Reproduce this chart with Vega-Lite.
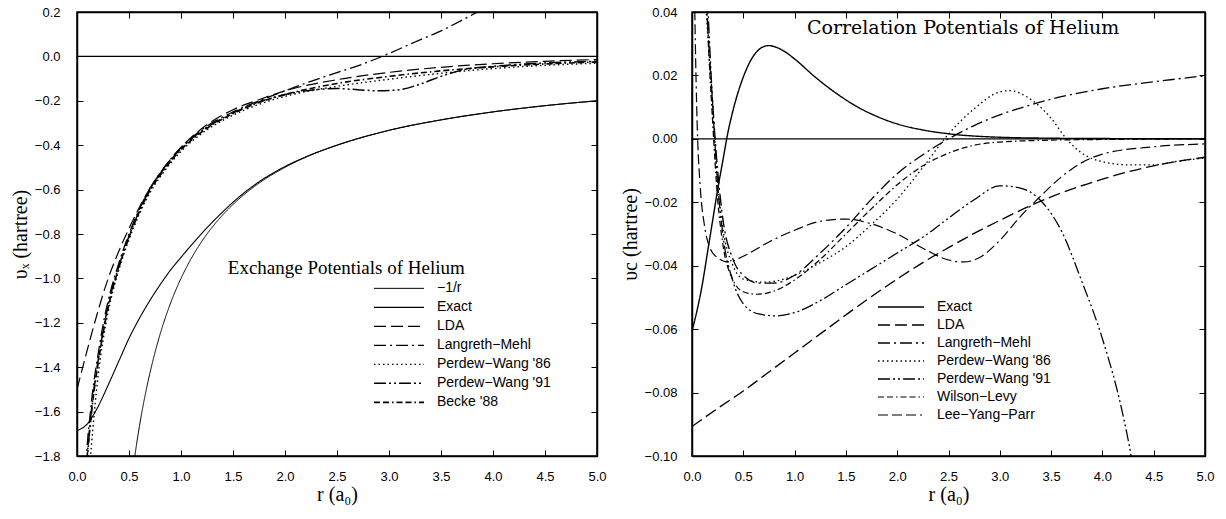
{
"$schema":"https://vega.github.io/schema/vega-lite/v6.json",
"background":"white",
"padding":{"left":9,"top":5,"right":5,"bottom":5},
"spacing":95,
"bounds":"flush",
"config":{
 "view":{"stroke":"black","strokeWidth":1.5},
 "font":"Liberation Sans",
 "axis":{"grid":false,"domainColor":"black","domainWidth":1.5,"tickColor":"black","tickWidth":1,"tickSize":-6,
  "labelFlush":false,"labelOverlap":false,
  "labelFont":"Liberation Sans","labelFontSize":13,"labelColor":"black","labelPadding":20,
  "titleFont":"Liberation Serif","titleFontSize":20,"titleFontWeight":"normal","titleColor":"black"}
},
"datasets":{
"ex":[
{"m":"−1/r","r":0.5,"v":-2.0},{"m":"−1/r","r":0.556,"v":-1.8},{"m":"−1/r","r":0.6,"v":-1.667},{"m":"−1/r","r":0.65,"v":-1.538},{"m":"−1/r","r":0.7,"v":-1.429},{"m":"−1/r","r":0.8,"v":-1.25},{"m":"−1/r","r":0.9,"v":-1.111},{"m":"−1/r","r":1.0,"v":-1.0},{"m":"−1/r","r":1.1,"v":-0.909},{"m":"−1/r","r":1.2,"v":-0.833},{"m":"−1/r","r":1.35,"v":-0.741},{"m":"−1/r","r":1.5,"v":-0.667},{"m":"−1/r","r":1.75,"v":-0.571},{"m":"−1/r","r":2.0,"v":-0.5},{"m":"−1/r","r":2.25,"v":-0.444},{"m":"−1/r","r":2.5,"v":-0.4},{"m":"−1/r","r":3.0,"v":-0.333},{"m":"−1/r","r":3.5,"v":-0.286},{"m":"−1/r","r":4.0,"v":-0.25},{"m":"−1/r","r":4.5,"v":-0.222},{"m":"−1/r","r":5.0,"v":-0.2},
{"m":"Exact","r":0,"v":-1.686},{"m":"Exact","r":0.1,"v":-1.655},{"m":"Exact","r":0.2,"v":-1.58},{"m":"Exact","r":0.3,"v":-1.48},{"m":"Exact","r":0.4,"v":-1.375},{"m":"Exact","r":0.5,"v":-1.27},{"m":"Exact","r":0.6,"v":-1.18},{"m":"Exact","r":0.7,"v":-1.1},{"m":"Exact","r":0.8,"v":-1.028},{"m":"Exact","r":0.9,"v":-0.962},{"m":"Exact","r":1.0,"v":-0.905},{"m":"Exact","r":1.1,"v":-0.85},{"m":"Exact","r":1.2,"v":-0.797},{"m":"Exact","r":1.35,"v":-0.724},{"m":"Exact","r":1.5,"v":-0.657},{"m":"Exact","r":1.75,"v":-0.565},{"m":"Exact","r":2.0,"v":-0.496},{"m":"Exact","r":2.25,"v":-0.443},{"m":"Exact","r":2.5,"v":-0.4},{"m":"Exact","r":3.0,"v":-0.333},{"m":"Exact","r":3.5,"v":-0.286},{"m":"Exact","r":4.0,"v":-0.25},{"m":"Exact","r":4.5,"v":-0.222},{"m":"Exact","r":5.0,"v":-0.2},
{"m":"LDA","r":0,"v":-1.5},{"m":"LDA","r":0.1,"v":-1.32},{"m":"LDA","r":0.2,"v":-1.15},{"m":"LDA","r":0.3,"v":-1.0},{"m":"LDA","r":0.4,"v":-0.88},{"m":"LDA","r":0.5,"v":-0.775},{"m":"LDA","r":0.6,"v":-0.68},{"m":"LDA","r":0.7,"v":-0.595},{"m":"LDA","r":0.8,"v":-0.525},{"m":"LDA","r":1.0,"v":-0.41},{"m":"LDA","r":1.2,"v":-0.325},{"m":"LDA","r":1.5,"v":-0.24},{"m":"LDA","r":1.75,"v":-0.195},{"m":"LDA","r":2.0,"v":-0.155},{"m":"LDA","r":2.5,"v":-0.105},{"m":"LDA","r":3.0,"v":-0.072},{"m":"LDA","r":3.5,"v":-0.049},{"m":"LDA","r":4.0,"v":-0.033},{"m":"LDA","r":4.5,"v":-0.022},{"m":"LDA","r":5.0,"v":-0.014},
{"m":"Langreth−Mehl","r":0.085,"v":-1.85},{"m":"Langreth−Mehl","r":0.1,"v":-1.74},{"m":"Langreth−Mehl","r":0.125,"v":-1.62},{"m":"Langreth−Mehl","r":0.15,"v":-1.51},{"m":"Langreth−Mehl","r":0.2,"v":-1.35},{"m":"Langreth−Mehl","r":0.25,"v":-1.21},{"m":"Langreth−Mehl","r":0.3,"v":-1.1},{"m":"Langreth−Mehl","r":0.4,"v":-0.935},{"m":"Langreth−Mehl","r":0.5,"v":-0.8},{"m":"Langreth−Mehl","r":0.6,"v":-0.688},{"m":"Langreth−Mehl","r":0.7,"v":-0.595},{"m":"Langreth−Mehl","r":0.8,"v":-0.525},{"m":"Langreth−Mehl","r":1.0,"v":-0.41},{"m":"Langreth−Mehl","r":1.2,"v":-0.33},{"m":"Langreth−Mehl","r":1.5,"v":-0.25},{"m":"Langreth−Mehl","r":1.75,"v":-0.2},{"m":"Langreth−Mehl","r":2.0,"v":-0.155},{"m":"Langreth−Mehl","r":2.25,"v":-0.112},{"m":"Langreth−Mehl","r":2.5,"v":-0.073},{"m":"Langreth−Mehl","r":2.75,"v":-0.034},{"m":"Langreth−Mehl","r":3.0,"v":0.013},{"m":"Langreth−Mehl","r":3.25,"v":0.065},{"m":"Langreth−Mehl","r":3.5,"v":0.115},{"m":"Langreth−Mehl","r":3.75,"v":0.175},{"m":"Langreth−Mehl","r":3.95,"v":0.225},
{"m":"Perdew−Wang '86","r":0.12,"v":-1.85},{"m":"Perdew−Wang '86","r":0.13,"v":-1.8},{"m":"Perdew−Wang '86","r":0.15,"v":-1.69},{"m":"Perdew−Wang '86","r":0.2,"v":-1.45},{"m":"Perdew−Wang '86","r":0.25,"v":-1.28},{"m":"Perdew−Wang '86","r":0.3,"v":-1.15},{"m":"Perdew−Wang '86","r":0.4,"v":-0.965},{"m":"Perdew−Wang '86","r":0.5,"v":-0.825},{"m":"Perdew−Wang '86","r":0.6,"v":-0.71},{"m":"Perdew−Wang '86","r":0.7,"v":-0.615},{"m":"Perdew−Wang '86","r":0.8,"v":-0.543},{"m":"Perdew−Wang '86","r":1.0,"v":-0.428},{"m":"Perdew−Wang '86","r":1.2,"v":-0.347},{"m":"Perdew−Wang '86","r":1.5,"v":-0.265},{"m":"Perdew−Wang '86","r":1.75,"v":-0.216},{"m":"Perdew−Wang '86","r":2.0,"v":-0.18},{"m":"Perdew−Wang '86","r":2.5,"v":-0.135},{"m":"Perdew−Wang '86","r":3.0,"v":-0.103},{"m":"Perdew−Wang '86","r":3.5,"v":-0.076},{"m":"Perdew−Wang '86","r":4.0,"v":-0.055},{"m":"Perdew−Wang '86","r":4.5,"v":-0.04},{"m":"Perdew−Wang '86","r":5.0,"v":-0.031},
{"m":"Perdew−Wang '91","r":0.095,"v":-1.85},{"m":"Perdew−Wang '91","r":0.11,"v":-1.75},{"m":"Perdew−Wang '91","r":0.125,"v":-1.66},{"m":"Perdew−Wang '91","r":0.15,"v":-1.55},{"m":"Perdew−Wang '91","r":0.2,"v":-1.38},{"m":"Perdew−Wang '91","r":0.25,"v":-1.24},{"m":"Perdew−Wang '91","r":0.3,"v":-1.12},{"m":"Perdew−Wang '91","r":0.4,"v":-0.95},{"m":"Perdew−Wang '91","r":0.5,"v":-0.81},{"m":"Perdew−Wang '91","r":0.6,"v":-0.695},{"m":"Perdew−Wang '91","r":0.7,"v":-0.6},{"m":"Perdew−Wang '91","r":0.8,"v":-0.53},{"m":"Perdew−Wang '91","r":1.0,"v":-0.415},{"m":"Perdew−Wang '91","r":1.2,"v":-0.335},{"m":"Perdew−Wang '91","r":1.5,"v":-0.255},{"m":"Perdew−Wang '91","r":1.75,"v":-0.205},{"m":"Perdew−Wang '91","r":2.0,"v":-0.172},{"m":"Perdew−Wang '91","r":2.25,"v":-0.152},{"m":"Perdew−Wang '91","r":2.5,"v":-0.145},{"m":"Perdew−Wang '91","r":2.7,"v":-0.15},{"m":"Perdew−Wang '91","r":2.9,"v":-0.155},{"m":"Perdew−Wang '91","r":3.1,"v":-0.15},{"m":"Perdew−Wang '91","r":3.3,"v":-0.125},{"m":"Perdew−Wang '91","r":3.5,"v":-0.09},{"m":"Perdew−Wang '91","r":3.7,"v":-0.062},{"m":"Perdew−Wang '91","r":4.0,"v":-0.045},{"m":"Perdew−Wang '91","r":4.5,"v":-0.03},{"m":"Perdew−Wang '91","r":5.0,"v":-0.022},
{"m":"Becke '88","r":0.09,"v":-1.85},{"m":"Becke '88","r":0.1,"v":-1.79},{"m":"Becke '88","r":0.125,"v":-1.67},{"m":"Becke '88","r":0.15,"v":-1.56},{"m":"Becke '88","r":0.2,"v":-1.39},{"m":"Becke '88","r":0.25,"v":-1.25},{"m":"Becke '88","r":0.3,"v":-1.13},{"m":"Becke '88","r":0.4,"v":-0.955},{"m":"Becke '88","r":0.5,"v":-0.815},{"m":"Becke '88","r":0.6,"v":-0.7},{"m":"Becke '88","r":0.7,"v":-0.605},{"m":"Becke '88","r":0.8,"v":-0.535},{"m":"Becke '88","r":1.0,"v":-0.42},{"m":"Becke '88","r":1.2,"v":-0.34},{"m":"Becke '88","r":1.5,"v":-0.258},{"m":"Becke '88","r":1.75,"v":-0.208},{"m":"Becke '88","r":2.0,"v":-0.172},{"m":"Becke '88","r":2.5,"v":-0.122},{"m":"Becke '88","r":3.0,"v":-0.09},{"m":"Becke '88","r":3.5,"v":-0.065},{"m":"Becke '88","r":4.0,"v":-0.047},{"m":"Becke '88","r":4.5,"v":-0.034},{"m":"Becke '88","r":5.0,"v":-0.025}
],
"co":[
{"m":"Exact","r":0,"v":-0.0605},{"m":"Exact","r":0.05,"v":-0.054},{"m":"Exact","r":0.1,"v":-0.046},{"m":"Exact","r":0.15,"v":-0.036},{"m":"Exact","r":0.2,"v":-0.026},{"m":"Exact","r":0.25,"v":-0.016},{"m":"Exact","r":0.3,"v":-0.007},{"m":"Exact","r":0.35,"v":0.002},{"m":"Exact","r":0.4,"v":0.009},{"m":"Exact","r":0.5,"v":0.0195},{"m":"Exact","r":0.6,"v":0.0262},{"m":"Exact","r":0.7,"v":0.0291},{"m":"Exact","r":0.75,"v":0.0294},{"m":"Exact","r":0.8,"v":0.0291},{"m":"Exact","r":0.9,"v":0.0276},{"m":"Exact","r":1.0,"v":0.0252},{"m":"Exact","r":1.2,"v":0.0195},{"m":"Exact","r":1.4,"v":0.0145},{"m":"Exact","r":1.6,"v":0.0103},{"m":"Exact","r":1.8,"v":0.0071},{"m":"Exact","r":2.0,"v":0.0047},{"m":"Exact","r":2.25,"v":0.0028},{"m":"Exact","r":2.5,"v":0.0016},{"m":"Exact","r":3.0,"v":0.0005},{"m":"Exact","r":3.5,"v":0.0002},{"m":"Exact","r":4.0,"v":0.0001},{"m":"Exact","r":5.0,"v":0},
{"m":"LDA","r":0,"v":-0.0907},{"m":"LDA","r":0.25,"v":-0.085},{"m":"LDA","r":0.5,"v":-0.0795},{"m":"LDA","r":0.75,"v":-0.0735},{"m":"LDA","r":1.0,"v":-0.0675},{"m":"LDA","r":1.25,"v":-0.0615},{"m":"LDA","r":1.5,"v":-0.0555},{"m":"LDA","r":1.75,"v":-0.0497},{"m":"LDA","r":2.0,"v":-0.0442},{"m":"LDA","r":2.25,"v":-0.039},{"m":"LDA","r":2.5,"v":-0.0343},{"m":"LDA","r":2.75,"v":-0.0298},{"m":"LDA","r":3.0,"v":-0.0257},{"m":"LDA","r":3.25,"v":-0.0218},{"m":"LDA","r":3.5,"v":-0.0183},{"m":"LDA","r":3.75,"v":-0.0153},{"m":"LDA","r":4.0,"v":-0.0127},{"m":"LDA","r":4.25,"v":-0.0104},{"m":"LDA","r":4.5,"v":-0.0085},{"m":"LDA","r":4.75,"v":-0.007},{"m":"LDA","r":5.0,"v":-0.0058},
{"m":"Langreth−Mehl","r":0.14,"v":0.045},{"m":"Langreth−Mehl","r":0.15,"v":0.038},{"m":"Langreth−Mehl","r":0.2,"v":0.012},{"m":"Langreth−Mehl","r":0.25,"v":-0.01},{"m":"Langreth−Mehl","r":0.3,"v":-0.025},{"m":"Langreth−Mehl","r":0.4,"v":-0.038},{"m":"Langreth−Mehl","r":0.5,"v":-0.043},{"m":"Langreth−Mehl","r":0.65,"v":-0.0455},{"m":"Langreth−Mehl","r":0.8,"v":-0.0455},{"m":"Langreth−Mehl","r":1.0,"v":-0.043},{"m":"Langreth−Mehl","r":1.25,"v":-0.036},{"m":"Langreth−Mehl","r":1.5,"v":-0.028},{"m":"Langreth−Mehl","r":1.75,"v":-0.019},{"m":"Langreth−Mehl","r":2.0,"v":-0.011},{"m":"Langreth−Mehl","r":2.25,"v":-0.005},{"m":"Langreth−Mehl","r":2.5,"v":0.0},{"m":"Langreth−Mehl","r":2.75,"v":0.0042},{"m":"Langreth−Mehl","r":3.0,"v":0.0076},{"m":"Langreth−Mehl","r":3.25,"v":0.0102},{"m":"Langreth−Mehl","r":3.5,"v":0.0125},{"m":"Langreth−Mehl","r":4.0,"v":0.0158},{"m":"Langreth−Mehl","r":4.5,"v":0.018},{"m":"Langreth−Mehl","r":5.0,"v":0.0199},
{"m":"Perdew−Wang '86","r":0.13,"v":0.045},{"m":"Perdew−Wang '86","r":0.15,"v":0.035},{"m":"Perdew−Wang '86","r":0.2,"v":0.008},{"m":"Perdew−Wang '86","r":0.25,"v":-0.014},{"m":"Perdew−Wang '86","r":0.3,"v":-0.028},{"m":"Perdew−Wang '86","r":0.4,"v":-0.04},{"m":"Perdew−Wang '86","r":0.5,"v":-0.0442},{"m":"Perdew−Wang '86","r":0.7,"v":-0.0452},{"m":"Perdew−Wang '86","r":0.9,"v":-0.0442},{"m":"Perdew−Wang '86","r":1.0,"v":-0.043},{"m":"Perdew−Wang '86","r":1.25,"v":-0.039},{"m":"Perdew−Wang '86","r":1.5,"v":-0.034},{"m":"Perdew−Wang '86","r":1.75,"v":-0.027},{"m":"Perdew−Wang '86","r":2.0,"v":-0.019},{"m":"Perdew−Wang '86","r":2.25,"v":-0.009},{"m":"Perdew−Wang '86","r":2.5,"v":0.0015},{"m":"Perdew−Wang '86","r":2.75,"v":0.0095},{"m":"Perdew−Wang '86","r":3.0,"v":0.0148},{"m":"Perdew−Wang '86","r":3.1,"v":0.0152},{"m":"Perdew−Wang '86","r":3.25,"v":0.0135},{"m":"Perdew−Wang '86","r":3.5,"v":0.0065},{"m":"Perdew−Wang '86","r":3.65,"v":0.0},{"m":"Perdew−Wang '86","r":3.8,"v":-0.0045},{"m":"Perdew−Wang '86","r":4.0,"v":-0.0072},{"m":"Perdew−Wang '86","r":4.25,"v":-0.0082},{"m":"Perdew−Wang '86","r":4.5,"v":-0.0082},{"m":"Perdew−Wang '86","r":4.75,"v":-0.007},{"m":"Perdew−Wang '86","r":5.0,"v":-0.006},
{"m":"Perdew−Wang '91","r":0.15,"v":0.045},{"m":"Perdew−Wang '91","r":0.2,"v":0.012},{"m":"Perdew−Wang '91","r":0.25,"v":-0.014},{"m":"Perdew−Wang '91","r":0.3,"v":-0.03},{"m":"Perdew−Wang '91","r":0.4,"v":-0.045},{"m":"Perdew−Wang '91","r":0.5,"v":-0.052},{"m":"Perdew−Wang '91","r":0.65,"v":-0.0552},{"m":"Perdew−Wang '91","r":0.82,"v":-0.0558},{"m":"Perdew−Wang '91","r":1.0,"v":-0.0548},{"m":"Perdew−Wang '91","r":1.25,"v":-0.051},{"m":"Perdew−Wang '91","r":1.5,"v":-0.046},{"m":"Perdew−Wang '91","r":1.75,"v":-0.041},{"m":"Perdew−Wang '91","r":2.0,"v":-0.036},{"m":"Perdew−Wang '91","r":2.25,"v":-0.031},{"m":"Perdew−Wang '91","r":2.5,"v":-0.025},{"m":"Perdew−Wang '91","r":2.75,"v":-0.0192},{"m":"Perdew−Wang '91","r":3.0,"v":-0.0148},{"m":"Perdew−Wang '91","r":3.2,"v":-0.0155},{"m":"Perdew−Wang '91","r":3.4,"v":-0.0195},{"m":"Perdew−Wang '91","r":3.6,"v":-0.029},{"m":"Perdew−Wang '91","r":3.8,"v":-0.045},{"m":"Perdew−Wang '91","r":4.0,"v":-0.063},{"m":"Perdew−Wang '91","r":4.2,"v":-0.087},{"m":"Perdew−Wang '91","r":4.28,"v":-0.1},{"m":"Perdew−Wang '91","r":4.3,"v":-0.104},
{"m":"Wilson−Levy","r":0.14,"v":0.045},{"m":"Wilson−Levy","r":0.15,"v":0.037},{"m":"Wilson−Levy","r":0.2,"v":0.006},{"m":"Wilson−Levy","r":0.25,"v":-0.019},{"m":"Wilson−Levy","r":0.3,"v":-0.033},{"m":"Wilson−Levy","r":0.4,"v":-0.0445},{"m":"Wilson−Levy","r":0.5,"v":-0.0482},{"m":"Wilson−Levy","r":0.63,"v":-0.049},{"m":"Wilson−Levy","r":0.75,"v":-0.0485},{"m":"Wilson−Levy","r":1.0,"v":-0.0445},{"m":"Wilson−Levy","r":1.25,"v":-0.038},{"m":"Wilson−Levy","r":1.5,"v":-0.03},{"m":"Wilson−Levy","r":1.75,"v":-0.022},{"m":"Wilson−Levy","r":2.0,"v":-0.0145},{"m":"Wilson−Levy","r":2.25,"v":-0.0085},{"m":"Wilson−Levy","r":2.5,"v":-0.0045},{"m":"Wilson−Levy","r":2.75,"v":-0.002},{"m":"Wilson−Levy","r":3.0,"v":-0.001},{"m":"Wilson−Levy","r":3.5,"v":-0.0004},{"m":"Wilson−Levy","r":4.0,"v":-0.0002},{"m":"Wilson−Levy","r":5.0,"v":0},
{"m":"Lee−Yang−Parr","r":0.025,"v":0.045},{"m":"Lee−Yang−Parr","r":0.03,"v":0.035},{"m":"Lee−Yang−Parr","r":0.05,"v":0.005},{"m":"Lee−Yang−Parr","r":0.08,"v":-0.015},{"m":"Lee−Yang−Parr","r":0.12,"v":-0.027},{"m":"Lee−Yang−Parr","r":0.17,"v":-0.034},{"m":"Lee−Yang−Parr","r":0.25,"v":-0.0375},{"m":"Lee−Yang−Parr","r":0.35,"v":-0.0388},{"m":"Lee−Yang−Parr","r":0.5,"v":-0.037},{"m":"Lee−Yang−Parr","r":0.75,"v":-0.0325},{"m":"Lee−Yang−Parr","r":1.0,"v":-0.0288},{"m":"Lee−Yang−Parr","r":1.25,"v":-0.026},{"m":"Lee−Yang−Parr","r":1.5,"v":-0.0253},{"m":"Lee−Yang−Parr","r":1.75,"v":-0.0268},{"m":"Lee−Yang−Parr","r":2.0,"v":-0.03},{"m":"Lee−Yang−Parr","r":2.25,"v":-0.0345},{"m":"Lee−Yang−Parr","r":2.5,"v":-0.0382},{"m":"Lee−Yang−Parr","r":2.65,"v":-0.0388},{"m":"Lee−Yang−Parr","r":2.8,"v":-0.0375},{"m":"Lee−Yang−Parr","r":3.0,"v":-0.032},{"m":"Lee−Yang−Parr","r":3.2,"v":-0.0245},{"m":"Lee−Yang−Parr","r":3.4,"v":-0.018},{"m":"Lee−Yang−Parr","r":3.6,"v":-0.012},{"m":"Lee−Yang−Parr","r":3.8,"v":-0.0075},{"m":"Lee−Yang−Parr","r":4.0,"v":-0.0048},{"m":"Lee−Yang−Parr","r":4.5,"v":-0.0025},{"m":"Lee−Yang−Parr","r":5.0,"v":-0.0016}
]
},
"hconcat":[
{
 "width":520,"height":444,
 "layer":[
  {"data":{"name":"ex"},
   "mark":{"type":"line","clip":true,"interpolate":"monotone","color":"black"},
   "encoding":{
    "x":{"field":"r","type":"quantitative","scale":{"domain":[0,5],"nice":false,"zero":false},
     "axis":{"values":[0,0.5,1,1.5,2,2.5,3,3.5,4,4.5,5],"format":".1f","title":"r (a₀)","titlePadding":1}},
    "y":{"field":"v","type":"quantitative","scale":{"domain":[-1.8,0.2],"nice":false,"zero":false},
     "axis":{"values":[-1.8,-1.6,-1.4,-1.2,-1.0,-0.8,-0.6,-0.4,-0.2,0,0.2],"format":".1f","title":"υₓ (hartree)","titlePadding":4,"labelPadding":23}},
    "strokeDash":{"field":"m","type":"nominal",
     "scale":{"domain":["−1/r","Exact","LDA","Langreth−Mehl","Perdew−Wang '86","Perdew−Wang '91","Becke '88"],
      "range":[[1,0],[1,0],[12,5],[12,4,2,4],[1.5,3],[12,3,2,3,2,3],[6,3,6,3,1.5,3]]},
     "legend":{"orient":"none","legendX":296,"legendY":267,"title":null,"symbolType":"stroke","symbolSize":2500,"symbolStrokeColor":"black","clipHeight":18.7,"rowPadding":0,"padding":0,"labelFont":"Liberation Sans","labelFontSize":14,"labelColor":"black","labelOffset":12}},
    "strokeWidth":{"field":"m","type":"nominal",
     "scale":{"domain":["−1/r","Exact","LDA","Langreth−Mehl","Perdew−Wang '86","Perdew−Wang '91","Becke '88"],
      "range":[1,1.6,1.2,1.2,1.2,1.2,1.2]},
     "legend":{"orient":"none","legendX":296,"legendY":267,"title":null,"symbolType":"stroke","symbolSize":2500,"symbolStrokeColor":"black","clipHeight":18.7,"rowPadding":0,"padding":0,"labelFont":"Liberation Sans","labelFontSize":14,"labelColor":"black","labelOffset":12}}
   }},
  {"data":{"values":[{"v":0}]},"mark":{"type":"rule","color":"black","strokeWidth":1.2},
   "encoding":{"y":{"field":"v","type":"quantitative","axis":null}}},
  {"data":{"name":"ex"},"mark":{"type":"point","opacity":0,"clip":true},
   "encoding":{
    "x":{"field":"r","type":"quantitative","axis":{"orient":"top","labels":false,"title":null,"values":[0,0.5,1,1.5,2,2.5,3,3.5,4,4.5,5]}},
    "y":{"field":"v","type":"quantitative","axis":{"orient":"right","labels":false,"title":null,"values":[-1.8,-1.6,-1.4,-1.2,-1.0,-0.8,-0.6,-0.4,-0.2,0,0.2]}}}},
  {"data":{"values":[{"r":1.45,"v":-0.953,"t":"Exchange Potentials of Helium"}]},
   "mark":{"type":"text","align":"left","baseline":"middle","font":"Liberation Serif","fontSize":19,"color":"black"},
   "encoding":{"x":{"field":"r","type":"quantitative","axis":null},"y":{"field":"v","type":"quantitative","axis":null},"text":{"field":"t"}}}
 ],
 "resolve":{"axis":{"x":"independent","y":"independent"}}
},
{
 "width":513,"height":444,
 "layer":[
  {"data":{"name":"co"},
   "mark":{"type":"line","clip":true,"interpolate":"monotone","color":"black"},
   "encoding":{
    "x":{"field":"r","type":"quantitative","scale":{"domain":[0,5],"nice":false,"zero":false},
     "axis":{"values":[0,0.5,1,1.5,2,2.5,3,3.5,4,4.5,5],"format":".1f","title":"r (a₀)","titlePadding":1}},
    "y":{"field":"v","type":"quantitative","scale":{"domain":[-0.1,0.04],"nice":false,"zero":false},
     "axis":{"values":[-0.1,-0.08,-0.06,-0.04,-0.02,0,0.02,0.04],"format":".2f","title":"υc (hartree)","titlePadding":4,"labelPadding":21}},
    "strokeDash":{"field":"m","type":"nominal",
     "scale":{"domain":["Exact","LDA","Langreth−Mehl","Perdew−Wang '86","Perdew−Wang '91","Wilson−Levy","Lee−Yang−Parr"],
      "range":[[1,0],[12,5],[12,4,2,4],[1.5,3],[12,3,2,3,2,3],[6,3,6,3,1.5,3],[10,4,10,4,10,4,2,4]]},
     "legend":{"orient":"none","legendX":185,"legendY":286,"title":null,"symbolType":"stroke","symbolSize":2116,"symbolStrokeColor":"black","clipHeight":18,"rowPadding":0,"padding":0,"labelFont":"Liberation Sans","labelFontSize":14,"labelColor":"black","labelOffset":12}},
    "strokeWidth":{"field":"m","type":"nominal",
     "scale":{"domain":["Exact","LDA","Langreth−Mehl","Perdew−Wang '86","Perdew−Wang '91","Wilson−Levy","Lee−Yang−Parr"],
      "range":[1.4,1.2,1.2,1.2,1.2,1.2,1.2]},
     "legend":{"orient":"none","legendX":185,"legendY":286,"title":null,"symbolType":"stroke","symbolSize":2116,"symbolStrokeColor":"black","clipHeight":18,"rowPadding":0,"padding":0,"labelFont":"Liberation Sans","labelFontSize":14,"labelColor":"black","labelOffset":12}}
   }},
  {"data":{"values":[{"v":0}]},"mark":{"type":"rule","color":"black","strokeWidth":1.2},
   "encoding":{"y":{"field":"v","type":"quantitative","axis":null}}},
  {"data":{"name":"co"},"mark":{"type":"point","opacity":0,"clip":true},
   "encoding":{
    "x":{"field":"r","type":"quantitative","axis":{"orient":"top","labels":false,"title":null,"values":[0,0.5,1,1.5,2,2.5,3,3.5,4,4.5,5]}},
    "y":{"field":"v","type":"quantitative","axis":{"orient":"right","labels":false,"title":null,"values":[-0.1,-0.08,-0.06,-0.04,-0.02,0,0.02,0.04]}}}},
  {"data":{"values":[{"r":1.12,"v":0.035,"t":"Correlation Potentials of Helium"}]},
   "mark":{"type":"text","align":"left","baseline":"middle","font":"DejaVu Serif","fontSize":19,"color":"black"},
   "encoding":{"x":{"field":"r","type":"quantitative","axis":null},"y":{"field":"v","type":"quantitative","axis":null},"text":{"field":"t"}}}
 ],
 "resolve":{"axis":{"x":"independent","y":"independent"}}
}
],
"resolve":{"scale":{"strokeDash":"independent","strokeWidth":"independent"},"legend":{"strokeDash":"independent","strokeWidth":"independent"}}
}
